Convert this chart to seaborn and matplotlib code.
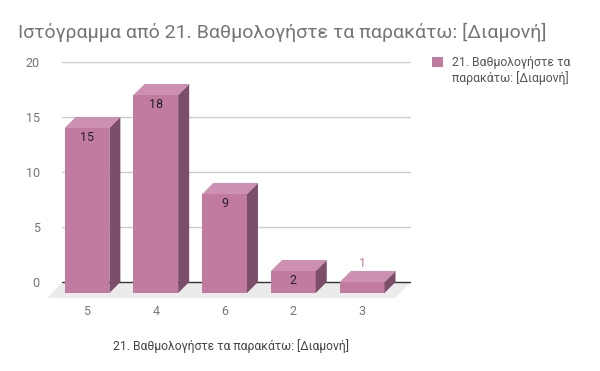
import matplotlib
matplotlib.use("Agg")
import matplotlib.pyplot as plt
from matplotlib.patches import Polygon, Patch
from matplotlib.transforms import offset_copy
import pandas as pd
import seaborn as sns

# données
categories = ["5", "4", "6", "2", "3"]
counts = [15, 18, 9, 2, 1]
series_name = "21. Βαθμολογήστε τα παρακάτω: [Διαμονή]"
title = "Ιστόγραμμα από 21. Βαθμολογήστε τα παρακάτω: [Διαμονή]"
yticks = [0, 5, 10, 15, 20]

df = pd.DataFrame({"cat": categories, "n": counts})

sns.set_style("white")
plt.rcParams["font.family"] = ["Roboto", "DejaVu Sans"]

front = "#c27ba0"
top_c = "#cd90b2"
side_c = "#7d4e69"
grey = "#757575"

fig = plt.figure(figsize=(6, 3.71), dpi=100)
ax = fig.add_axes([62 / 600, 1 - 298.5 / 371, 349 / 600, 236.5 / 371])

# profondeur 3D
dx, dy = 0.16, 1.0

sns.barplot(data=df, x="cat", y="n", color=front, width=0.65, saturation=1,
            ax=ax, zorder=3)

ax.set_xlim(-0.364, 4.71)
ax.set_ylim(-1.5, 20)

# sol gris
floor = Polygon([(-0.58, -1.45), (4.48, -1.45), (4.71, 0), (-0.35, 0)],
                closed=True, facecolor="#ebebeb", edgecolor="none",
                zorder=1, clip_on=False)
ax.add_patch(floor)

# grille
for t in yticks:
    ax.axhline(t, color="#333333" if t == 0 else "#cccccc", lw=1, zorder=2)

shift = offset_copy(ax.transData, fig=fig, x=0, y=-11, units="dots")
for p, v in zip(ax.patches[:len(counts)], counts):
    if not hasattr(p, "get_width"):
        continue
    p.set_transform(shift)
    p.set_edgecolor("none")
    x, w, h = p.get_x(), p.get_width(), p.get_height()
    side = Polygon([(x + w, 0), (x + w + dx, dy), (x + w + dx, h + dy), (x + w, h)],
                   closed=True, facecolor=side_c, edgecolor="none", zorder=3,
                   transform=shift)
    topf = Polygon([(x, h), (x + w, h), (x + w + dx, h + dy), (x + dx, h + dy)],
                   closed=True, facecolor=top_c, edgecolor="none", zorder=3,
                   transform=shift)
    ax.add_patch(side)
    ax.add_patch(topf)
    if h >= 2:
        ax.text(x + w / 2, h - 0.9, str(v), ha="center", va="center",
                fontsize=9, color="#222222", transform=shift, zorder=5)
    else:
        ax.text(x + w / 2, h + dy + 0.7, str(v), ha="center", va="center",
                fontsize=9, color=front, transform=shift, zorder=5)

for s in ax.spines.values():
    s.set_visible(False)
ax.set_yticks(yticks)
ax.tick_params(axis="y", length=0, pad=16, labelsize=9, labelcolor=grey)
ax.tick_params(axis="x", length=0, pad=5, labelsize=9, labelcolor=grey)
ax.set_xlabel(series_name, fontsize=8.7, color="#444444")
ax.xaxis.set_label_coords((231 - 62) / 349, -(339 - 298.5) / 236.5)
ax.set_ylabel("")

fig.text(18 / 600, 1 - 32 / 371, title, fontsize=14, color=grey,
         ha="left", va="center")

handle = Patch(facecolor=front, edgecolor="none")
leg = fig.legend([handle], ["21. Βαθμολογήστε τα\nπαρακάτω: [Διαμονή]"],
                 loc="upper left", bbox_to_anchor=(432 / 600, 1 - 56 / 371),
                 frameon=False, fontsize=8.8, labelcolor="#555555",
                 handlelength=0.9, handleheight=0.9, handletextpad=0.7,
                 borderaxespad=0, borderpad=0)
# carré aligné sur la première ligne
lh = leg.legend_handles[0]
lh.set_y(lh.get_y() + 6.5)

fig.savefig("out.png", dpi=100)
